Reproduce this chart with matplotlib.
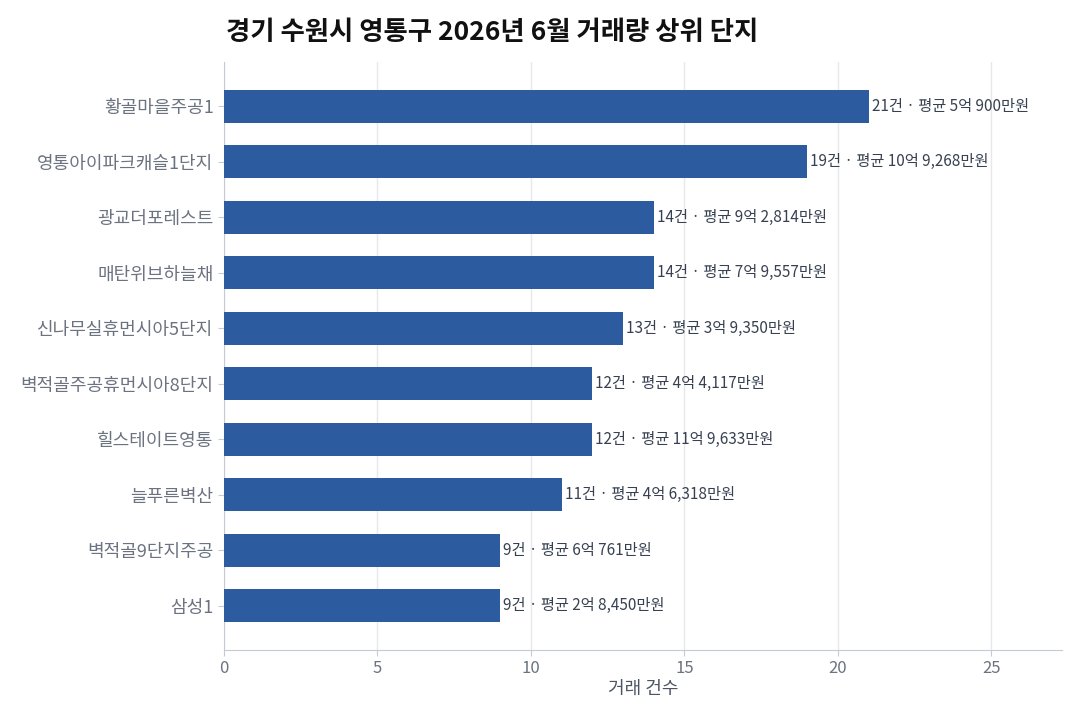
import numpy as np
import matplotlib
matplotlib.use("Agg")
import matplotlib.pyplot as plt

plt.rcParams["font.family"] = ["Noto Sans CJK KR", "DejaVu Sans"]

complexes = ["황골마을주공1", "영통아이파크캐슬1단지", "광교더포레스트", "매탄위브하늘채",
             "신나무실휴먼시아5단지", "벽적골주공휴먼시아8단지", "힐스테이트영통",
             "늘푸른벽산", "벽적골9단지주공", "삼성1"]
counts = [21, 19, 14, 14, 13, 12, 12, 11, 9, 9]
avg_price = ["5억 900만원", "10억 9,268만원", "9억 2,814만원", "7억 9,557만원",
             "3억 9,350만원", "4억 4,117만원", "11억 9,633만원", "4억 6,318만원",
             "6억 761만원", "2억 8,450만원"]

bar_color = "#2c5b9f"
spine_color = "#c5cad6"

fig = plt.figure(figsize=(10.8, 7.2), dpi=100)
ax = fig.add_axes([224/1080, 1 - 650/720, (1062-224)/1080, (650-62)/720])

y = np.arange(len(complexes))[::-1]
ax.barh(y, counts, height=0.6, color=bar_color, zorder=3)

for yi, c, p in zip(y, counts, avg_price):
    ax.text(c + 0.1, yi, f"{c}건 · 평균 {p}", va="center", ha="left",
            fontsize=11, color="#374151", zorder=4)

ax.set_yticks(y)
ax.set_yticklabels(complexes)
ax.set_xlim(0, max(counts) * 1.3)
ax.set_ylim(-0.8, len(complexes) - 0.2)
ax.set_xticks([0, 5, 10, 15, 20, 25])

ax.grid(axis="x", color="#e8e8ec", linewidth=1, zorder=0)
for s in ["top", "right"]:
    ax.spines[s].set_visible(False)
for s in ["left", "bottom"]:
    ax.spines[s].set_color(spine_color)
ax.tick_params(axis="y", colors="#6b7280", labelsize=13, length=4)
ax.tick_params(axis="x", colors="#6b7280", labelsize=12, length=4)
ax.tick_params(axis="both", color=spine_color)

ax.set_xlabel("거래 건수", fontsize=13, color="#4b5563", labelpad=2)
fig.text(226/1080, 1 - 32/720, "경기 수원시 영통구 2026년 6월 거래량 상위 단지",
         fontsize=19, fontweight="bold", ha="left", va="center", color="#111111")

fig.savefig("out.png", dpi=100)
